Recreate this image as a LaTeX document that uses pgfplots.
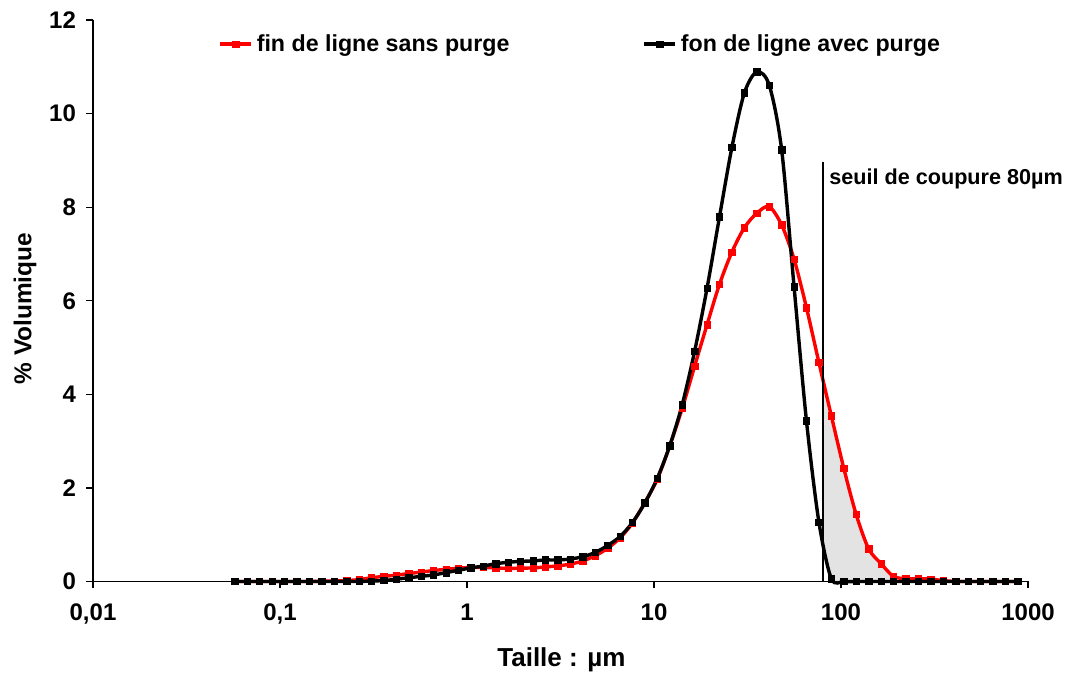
\documentclass[border=0pt]{standalone}
\usepackage{fontspec}
\setmainfont{Liberation Sans}
\usepackage{pgfplots}
\usepackage{pgfplotstable}
\pgfplotsset{compat=1.18}
\usepgfplotslibrary{fillbetween}

% taille (um)  sans purge  avec purge
\pgfplotstableread{
x      red    black
0.05726 0     0
0.06672 0     0
0.07776 0     0
0.09062 0     0
0.1056  0     0
0.1231  0     0
0.1434  0     0
0.1672  0.005 0
0.1948  0.01  0
0.2271  0.02  0
0.2646  0.04  0
0.3083  0.08  0.01
0.3593  0.11  0.02
0.4187  0.135 0.05
0.4880  0.17  0.08
0.5687  0.20  0.11
0.6626  0.235 0.14
0.7723  0.26  0.19
0.9001  0.285 0.24
1.049   0.30  0.29
1.222   0.30  0.33
1.424   0.29  0.38
1.660   0.28  0.41
1.934   0.285 0.43
2.255   0.29  0.44
2.628   0.31  0.46
3.062   0.335 0.46
3.569   0.37  0.48
4.159   0.44  0.53
4.847   0.55  0.62
5.648   0.71  0.77
6.582   0.93  0.96
7.671   1.25  1.26
8.940   1.69  1.68
10.42   2.19  2.21
12.14   2.90  2.90
14.15   3.70  3.78
16.49   4.60  4.92
19.22   5.49  6.27
22.39   6.35  7.79
26.10   7.04  9.28
30.42   7.56  10.44
35.44   7.87  10.89
41.30   8.01  10.61
48.14   7.62  9.23
56.10   6.89  6.30
65.37   5.85  3.43
76.19   4.68  1.27
88.79   3.54  0.06
103.5   2.42  0
120.6   1.43  0
140.5   0.70  0
163.8   0.38  0
190.9   0.11  0
222.4   0.06  0
259.2   0.06  0
302.1   0.05  0
352.1   0.02  0
410.3   0     0
478.1   0     0
557.2   0     0
649.4   0     0
756.8   0     0
881.9   0     0
}\granulo

\begin{document}
\begin{tikzpicture}
\begin{axis}[
  set layers,
  scale only axis,
  width=467.5pt, height=280.75pt,
  xmode=log,
  xmin=0.01, xmax=1000, ymin=0, ymax=12,
  axis x line*=bottom, axis y line*=left,
  xtick={0.01,0.1,1,10,100,1000},
  xticklabels={{0,01},{0,1},1,10,100,1000},
  ytick={0,2,...,12},
  xminorticks=false,
  tick align=outside,
  major tick length=3.5pt,
  tick style={black, line width=0.6pt},
  axis line style={line width=0.6pt},
  ticklabel style={font=\bfseries\fontsize{12}{14}\selectfont},
  xticklabel style={yshift=-4pt},
  yticklabel style={xshift=-1.5pt},
  /pgf/number format/assume math mode=true,
  xlabel={Taille : µm},
  ylabel={\% Volumique},
  xlabel style={font=\bfseries\fontsize{13}{15}\selectfont, at={(axis description cs:0.501,-0.1398)}, anchor=center},
  ylabel style={font=\bfseries\fontsize{12.2}{14}\selectfont, at={(axis description cs:-0.0727,0.486)}, anchor=center},
  clip=false,
  legend columns=2,
  legend style={draw=none, fill=none, at={(axis description cs:0.1337,0.957)}, anchor=west,
    inner sep=0pt, font=\bfseries\fontsize{11.6}{13}\selectfont,
    /tikz/every even column/.append style={column sep=64.5pt}},
  legend image code/.code={\draw[mark repeat=2,mark phase=2,#1] plot coordinates {(0pt,0pt) (7.75pt,0pt) (15.5pt,0pt)};},
]
\addplot[name path=R, red, line width=1.7pt, smooth, tension=0.5,
  mark=square*, mark size=1.6pt, mark options={line width=0.3pt}]
  table[x=x, y=red] {\granulo};
\addlegendentry{fin de ligne sans purge}
\addplot[name path=K, black, line width=1.7pt, smooth, tension=0.5,
  mark=square*, mark size=1.6pt, mark options={line width=0.3pt}]
  table[x=x, y=black] {\granulo};
\addlegendentry{fon de ligne avec purge}
\addplot[gray!22, forget plot, on layer=axis background]
  fill between[of=R and K, soft clip={(80,-1) rectangle (1000,13)}];
\addplot[black, line width=1pt, forget plot] coordinates {(80,0) (80,8.97)};
\node[anchor=base west, inner sep=0pt, font=\bfseries\fontsize{10.8}{12}\selectfont]
  at (axis cs:86.3,8.48) {seuil de coupure 80µm};
\end{axis}
\pgfresetboundingbox
\path (-46.5pt,-45.75pt) rectangle (494pt,290.75pt);
\end{tikzpicture}
\end{document}
